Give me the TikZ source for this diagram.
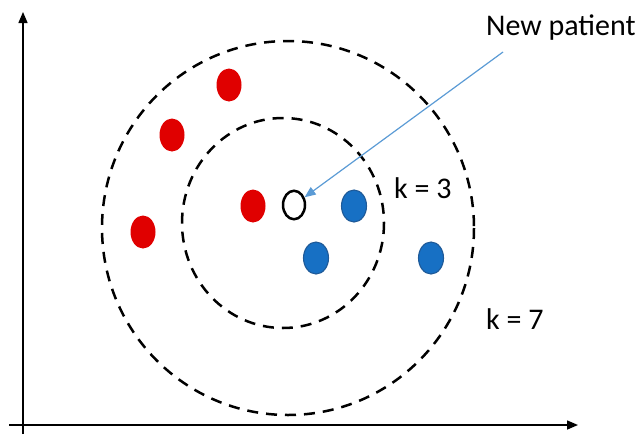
\documentclass[tikz,border=0pt]{standalone}
\usepackage{fontspec}
\setmainfont{Carlito}
\usepackage{tikz}
\usetikzlibrary{arrows.meta,shapes.geometric}
\definecolor{dotred}{HTML}{E00000}
\definecolor{dotblue}{HTML}{1770C4}
\definecolor{dotblueline}{HTML}{1F5A98}
\definecolor{pointer}{HTML}{5B9BD5}
\tikzset{
  reddot/.style={ellipse,fill=dotred,inner sep=0pt,minimum width=25pt,minimum height=33pt},
  bluedot/.style={ellipse,fill=dotblue,draw=dotblueline,line width=1.1pt,inner sep=0pt,minimum width=25pt,minimum height=32pt},
  newdot/.style={ellipse,draw=black,line width=2.5pt,inner sep=0pt,minimum width=22pt,minimum height=28.5pt},
  ring/.style={line width=2.5pt,dash pattern=on 11pt off 8pt},
  lbl/.style={anchor=base west,inner sep=0pt,font=\fontsize{30}{35}\selectfont}
}

\begin{document}
\begin{tikzpicture}[x=1pt,y=-1pt]
    \useasboundingbox (0,0) rectangle (639,434);
    \draw[line width=1.5pt,-{Triangle[length=11pt,width=9pt]}] (23,434) -- (23,12);
    \draw[line width=1.5pt,-{Triangle[length=11pt,width=9pt]}] (9,425) -- (578,425);
    \draw[ring] (288,228) ellipse [x radius=186,y radius=187];
    \draw[ring] (283,223) ellipse [x radius=101,y radius=105];
    \foreach \n/\p in {r1/{(229,85)},r2/{(172,135)},r3/{(143,232)},r4/{(253,206)}} {
      \node[reddot] (\n) at \p {};
    }
    \foreach \n/\p in {b1/{(354,206)},b2/{(316,258)},b3/{(431,258)}} {
      \node[bluedot] (\n) at \p {};
    }
    \node[newdot] (new) at (294,205) {};
    \coordinate (tail) at (503,52);
    \draw[pointer,line width=1.2pt,-{Triangle[length=11pt,width=9pt]}] (tail) -- (new);
    \node[lbl] (patient) at (486,35) {New patient};
    \node[lbl] (k3) at (394,198) {k = 3};
    \node[lbl] (k7) at (486,329) {k = 7};
\end{tikzpicture}
\end{document}
